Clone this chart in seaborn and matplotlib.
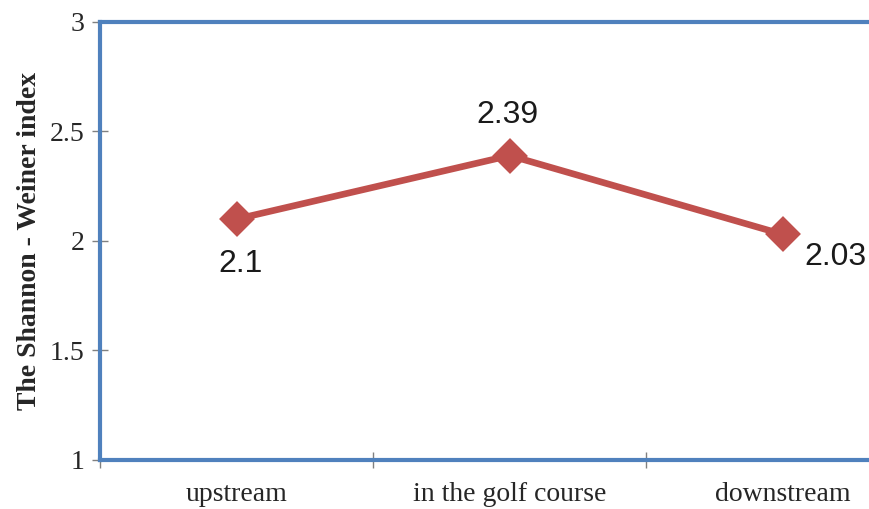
"""
Shannon-Weiner diversity index at three sampling sites.
"""
import matplotlib
matplotlib.use('Agg')
import matplotlib.pyplot as plt
import pandas as pd
import seaborn as sns

sns.set_style('white')

sites = ['upstream', 'in the golf course', 'downstream']
index_values = [2.1, 2.39, 2.03]
y_ticks = [1, 1.5, 2, 2.5, 3]
tick_labels = ['1', '1.5', '2', '2.5', '3']

data = pd.DataFrame({'site': sites, 'index': index_values})

fig = plt.figure(figsize=(8.7, 5.09), dpi=100)
ax = fig.add_axes([0.1149, 0.0963, 0.942, 0.8605])

sns.lineplot(x=range(len(sites)), y='index', data=data, ax=ax,
             color='#C0504D', linewidth=4.8, marker='D', markersize=15,
             markeredgecolor='#C0504D')
for line in ax.lines:
    line.set_solid_joinstyle('round')
    line.set_markeredgewidth(3)

# Data labels
offsets = [(3, -32), (-2, 29), (38, -16)]
for i, (val, off) in enumerate(zip(index_values, offsets)):
    ax.annotate(f'{val:g}', (i, val), xytext=off, textcoords='offset points',
                ha='center', va='center', fontsize=23,
                family='Liberation Sans', color='#1a1a1a')

ax.set_xlim(-0.5, 2.5)
ax.set_ylim(1, 3)
ax.set_yticks(y_ticks)
ax.set_yticklabels(tick_labels, family='Liberation Serif', fontsize=20)
ax.set_xticks([-0.5, 0.5, 1.5, 2.5])
ax.set_xticklabels([])
ax.set_xticks(range(len(sites)), minor=True)
ax.set_xticklabels(sites, minor=True, family='Liberation Serif', fontsize=20)
ax.tick_params(axis='x', which='minor', bottom=False, length=0, pad=16)
ax.tick_params(axis='both', which='major', direction='inout', length=12,
               width=1, color='#808080', bottom=True, left=True)
ax.tick_params(axis='y', pad=5)
ax.set_xlabel('')
ax.set_ylabel('The Shannon - Weiner index', family='Liberation Serif',
              fontsize=20, fontweight='bold', labelpad=6)

for spine in ax.spines.values():
    spine.set_color('#4F81BD')
    spine.set_linewidth(3)

plt.savefig('out.png', dpi=100)
